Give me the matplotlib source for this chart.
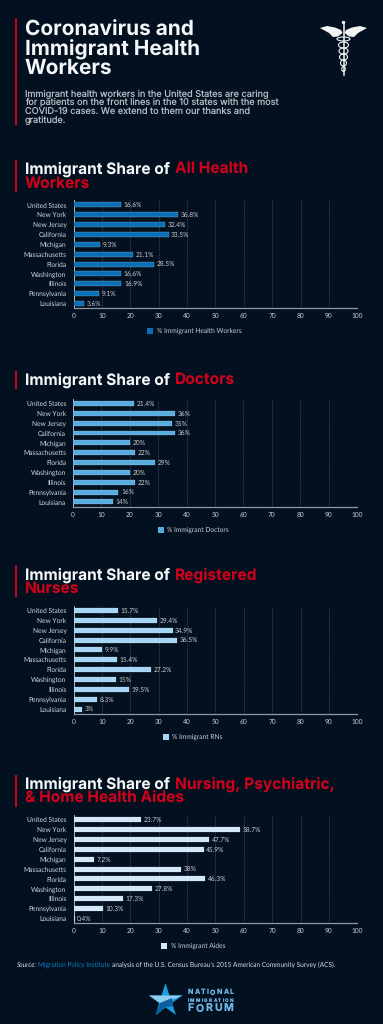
import matplotlib
matplotlib.use("Agg")
import matplotlib.pyplot as plt
from matplotlib.patches import Rectangle, Polygon, Ellipse
from matplotlib.lines import Line2D

plt.rcParams["text.hinting"] = "no_hinting"
plt.rcParams["text.hinting_factor"] = 8

W, H = 383, 1024
BG = "#02101f"
RED = "#d0021b"
HEAD_FONT = ["Inter", "DejaVu Sans"]
BODY_FONT = ["Lato", "DejaVu Sans"]

states = ["United States", "New York", "New Jersey", "California", "Michigan",
          "Massachusetts", "Florida", "Washington", "Illinois", "Pennsylvania", "Louisiana"]

health_workers = [16.6, 36.8, 32.4, 33.5, 9.3, 21.1, 28.5, 16.6, 16.9, 9.1, 3.6]
doctors = [21.4, 36, 35, 36, 20, 22, 29, 20, 22, 16, 14]
nurses = [15.7, 29.4, 34.9, 36.5, 9.9, 15.4, 27.2, 15, 19.5, 8.3, 3]
aides = [23.7, 58.7, 47.7, 45.9, 7.2, 38, 46.3, 27.8, 17.3, 10.3, 0.4]

worker_labels = ["16.6%", "36.8%", "32.4%", "33.5%", "9.3%", "21.1%", "28.5%", "16.6%", "16.9%", "9.1%", "3.6%"]
doctor_labels = ["21.4%", "36%", "35%", "36%", "20%", "22%", "29%", "20%", "22%", "16%", "14%"]
nurse_labels = ["15.7%", "29.4%", "34.9%", "36.5%", "9.9%", "15.4%", "27.2%", "15%", "19.5%", "8.3%", "3%"]
aide_labels = ["23.7%", "58.7%", "47.7%", "45.9%", "7.2%", "38%", "46.3%", "27.8%", "17.3%", "10.3%", "0.4%"]

x_ticks = [0, 10, 20, 30, 40, 50, 60, 70, 80, 90, 100]

fig = plt.figure(figsize=(W / 100, H / 100), dpi=100, facecolor=BG)
bg = fig.add_axes([0, 0, 1, 1], zorder=0)
bg.set_xlim(0, W)
bg.set_ylim(H, 0)
bg.axis("off")


def rect_axes(x0, y0, x1, y1):
    return fig.add_axes([x0 / W, 1 - y1 / H, (x1 - x0) / W, (y1 - y0) / H], zorder=2)


def draw_chart(values, labels, color, legend, x0, x1, top, bottom, leg_x, leg_y):
    ax = rect_axes(x0, top, x1, bottom)
    ax.set_facecolor("none")
    pos = list(range(len(states)))
    ax.barh(pos, values, height=0.5, color=color, edgecolor="#dbe6ee", linewidth=0.15, zorder=3)
    ax.set_xlim(0, 100)
    ax.set_ylim(len(states) - 0.5, -0.5)
    ax.set_yticks(pos, states)
    ax.set_xticks(x_ticks, [str(t) for t in x_ticks])
    ax.tick_params(axis="y", length=0, pad=5.0, labelsize=4.75, labelcolor="#d3d8dd")
    ax.tick_params(axis="x", length=0, pad=3.4, labelsize=4.75, labelcolor="#c4cad0")
    for lab in ax.get_xticklabels() + ax.get_yticklabels():
        lab.set_fontfamily(BODY_FONT)
    ax.grid(axis="x", color="#56636f", linewidth=0.45, linestyle=(0, (2, 2)), zorder=1)
    for t in ["top", "right"]:
        ax.spines[t].set_visible(False)
    ax.spines["left"].set_color("#c4d0da")
    ax.spines["left"].set_linewidth(0.6)
    ax.spines["bottom"].set_color("#8d9aa6")
    ax.spines["bottom"].set_linewidth(0.9)
    for p, v, lab in zip(pos, values, labels):
        ax.annotate(lab, (v, p), xytext=(1.9, -0.2), textcoords="offset points",
                    va="center", ha="left", fontsize=4.75, color="#c9ced3",
                    family=BODY_FONT, zorder=4)
    bg.add_patch(Rectangle((leg_x, leg_y - 3), 6, 6, facecolor=color, edgecolor="none"))
    bg.text(leg_x + 9.6, leg_y, legend, fontsize=4.75, color="#c9ced3", va="center", ha="left",
            family=BODY_FONT)


draw_chart(health_workers, worker_labels, "#0a6fb5", "% Immigrant Health Workers",
           73.5, 357.3, 200.0, 308.4, 147, 330.5)
draw_chart(doctors, doctor_labels, "#58ace0", "% Immigrant Doctors",
           73.0, 357.0, 398.6, 506.8, 157.5, 529.5)
draw_chart(nurses, nurse_labels, "#a5d6f5", "% Immigrant RNs",
           73.5, 357.3, 605.6, 714.0, 162.5, 736.5)
draw_chart(aides, aide_labels, "#d2e7f8", "% Immigrant Aides",
           73.5, 357.3, 814.9, 923.3, 161, 945.5)


def run(x, y, parts, size, font, weight):
    """Draw coloured text runs one after the other on one line."""
    r = fig.canvas.get_renderer()
    for s, c in parts:
        gap = s.endswith(" ")
        t = bg.text(x, y, s.rstrip(), fontsize=size, color=c, family=font, weight=weight,
                    va="center", ha="left")
        t.set_zorder(5)
        x = x + t.get_window_extent(r).width + (4.6 if gap else 0)


# accent bars
for y0, y1 in [(18, 125), (160, 192), (371, 389), (565, 597), (775, 807)]:
    bg.add_patch(Rectangle((15, y0), 2, y1 - y0, facecolor="#c8021a", edgecolor="none"))

# title
for y, s in zip([30, 49.5, 68.5], ["Coronavirus and", "Immigrant Health", "Workers"]):
    run(25, y, [(s, "#f4f6f8")], 15.0, HEAD_FONT, "bold")

for y, s in zip([94, 102.5, 111, 120],
                ["Immigrant health workers in the United States are caring",
                 "for patients on the front lines in the 10 states with the most",
                 "COVID-19 cases. We extend to them our thanks and",
                 "gratitude."]):
    run(25, y, [(s, "#b5bcc3")], 6.6, HEAD_FONT, "normal")

# section headings
WHITE = "#f4f6f8"
HS = 11.2
run(25, 169, [("Immigrant Share of ", WHITE), ("All Health", RED)], HS, HEAD_FONT, "bold")
run(25, 183.5, [("Workers", RED)], HS, HEAD_FONT, "bold")
run(25, 380, [("Immigrant Share of ", WHITE), ("Doctors", RED)], HS, HEAD_FONT, "bold")
run(25, 575, [("Immigrant Share of ", WHITE), ("Registered", RED)], HS, HEAD_FONT, "bold")
run(25, 589, [("Nurses", RED)], HS, HEAD_FONT, "bold")
run(25, 784, [("Immigrant Share of ", WHITE), ("Nursing, Psychiatric,", RED)], HS, HEAD_FONT, "bold")
run(25, 798, [("& Home Health Aides", RED)], HS, HEAD_FONT, "bold")

# source
r = fig.canvas.get_renderer()
x = 16.5
for s, c, st in [("Source:", "#d9dde1", "italic"), ("Migration Policy Institute", "#0a7fc4", "normal"),
                 ("analysis of the U.S. Census Bureau\u2019s 2015 American Community Survey (ACS).", "#d9dde1", "normal")]:
    t = bg.text(x, 964.5, s, fontsize=4.7, color=c, family=BODY_FONT, style=st, va="center", ha="left")
    x += t.get_window_extent(r).width + 1.6

# caduceus icon
ICON = "#f2f4f6"
bg.add_patch(Polygon([(320, 28), (327, 26), (335, 27.5), (341, 30), (342.5, 33), (338, 36.5), (333, 37), (329, 33)],
                     closed=True, facecolor=ICON, edgecolor="none"))
bg.add_patch(Polygon([(367, 28), (360, 26), (352, 27.5), (346, 30), (344.5, 33), (349, 36.5), (354, 37), (358, 33)],
                     closed=True, facecolor=ICON, edgecolor="none"))
bg.add_line(Line2D([343.5, 343.5], [22, 75], color=ICON, linewidth=1.1))
bg.add_patch(Ellipse((343.5, 22.5), 3.4, 3.4, facecolor=ICON, edgecolor="none"))
for cy, w, h in [(39, 13, 4), (45, 10, 6), (51, 9, 6), (57, 8, 6), (63, 6, 6), (69, 3.5, 5)]:
    bg.add_patch(Ellipse((343.5, cy), w, h, facecolor="none", edgecolor=ICON, linewidth=0.8))

# forum logo
bg.add_patch(Polygon([(165.5, 983), (169.5, 995.5), (182.5, 995.5), (172, 1003), (176, 1015), (165.5, 1007.5), (156, 1015), (159, 1003), (149, 995.5), (161.5, 995.5)],
                     closed=True, facecolor="#1b9be0", edgecolor="none"))
bg.add_patch(Polygon([(149, 995.5), (182.5, 995.5), (171, 1000), (160, 1003)],
                     closed=True, facecolor="#8fcdf0", edgecolor="none"))
bg.add_patch(Polygon([(160, 1003), (172, 998), (173, 1006), (165.5, 1007.5), (156, 1015)],
                     closed=True, facecolor="#0a5f9c", edgecolor="none"))


def spaced(x0, x1, y, word, size):
    """Letter-space a word so that it fills x0..x1, keeping each letter's own width."""
    r = fig.canvas.get_renderer()
    letters = [bg.text(0, y, ch, fontsize=size, color="#6db7e6", family=HEAD_FONT,
                       weight="bold", va="center", ha="left") for ch in word]
    widths = [t.get_window_extent(r).width for t in letters]
    gap = (x1 - x0 - sum(widths)) / (len(word) - 1)
    x = x0
    for t, w in zip(letters, widths):
        t.set_x(x)
        x += w + gap


spaced(187.5, 233.5, 992.5, "NATIONAL", 5.0)
spaced(187.5, 233.5, 1000.2, "IMMIGRATION", 3.3)
spaced(187.5, 233.5, 1008.5, "FORUM", 7.6)

fig.savefig("out.png", dpi=100, facecolor=BG)
